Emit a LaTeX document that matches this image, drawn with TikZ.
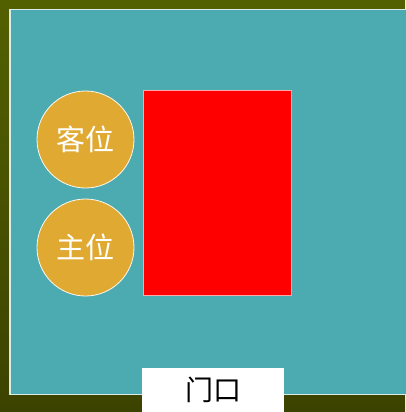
\documentclass[tikz,border=0pt]{standalone}
\usepackage{fontspec}
\newfontfamily\cjk{Noto Sans CJK SC}
\definecolor{olivetop}{HTML}{536000}
\definecolor{olivebot}{HTML}{3C4300}
\definecolor{teal2}{HTML}{4BABB0}
\definecolor{gold}{HTML}{E0AA32}
\definecolor{edge}{HTML}{D8ECEC}
\tikzset{
  seat/.style={circle, fill=gold, draw=white!92!gold, line width=0.8pt, minimum size=97pt, inner sep=0pt, text=white, font=\cjk\fontsize{29}{29}\selectfont},
  doorbox/.style={fill=white, draw=none, minimum width=142pt, minimum height=45pt, inner sep=0pt, font=\cjk\fontsize{28}{28}\selectfont},
}
\begin{document}
\begin{tikzpicture}[x=1pt,y=-1pt]
\useasboundingbox (0,0) rectangle (405,412);
\shade[top color=olivetop, bottom color=olivebot] (0,0) rectangle (405,412);
\fill[teal2] (10,9.5) rectangle (406,394.5);
\draw[edge, line width=1.5pt] (406,9.5) -- (10,9.5) -- (10,394.5) -- (406,394.5);
\node[draw=red!35!white, line width=0.8pt, fill=red, minimum width=148pt, minimum height=205pt, inner sep=0pt] (table) at (217.5,193) {};
\node[seat] (guest) at (85.5,139.5) {客位};
\node[seat] (host) at (85.5,247.5) {主位};
\node[doorbox, anchor=north] (door) at (213,367.5) {门口};
\end{tikzpicture}
\end{document}
